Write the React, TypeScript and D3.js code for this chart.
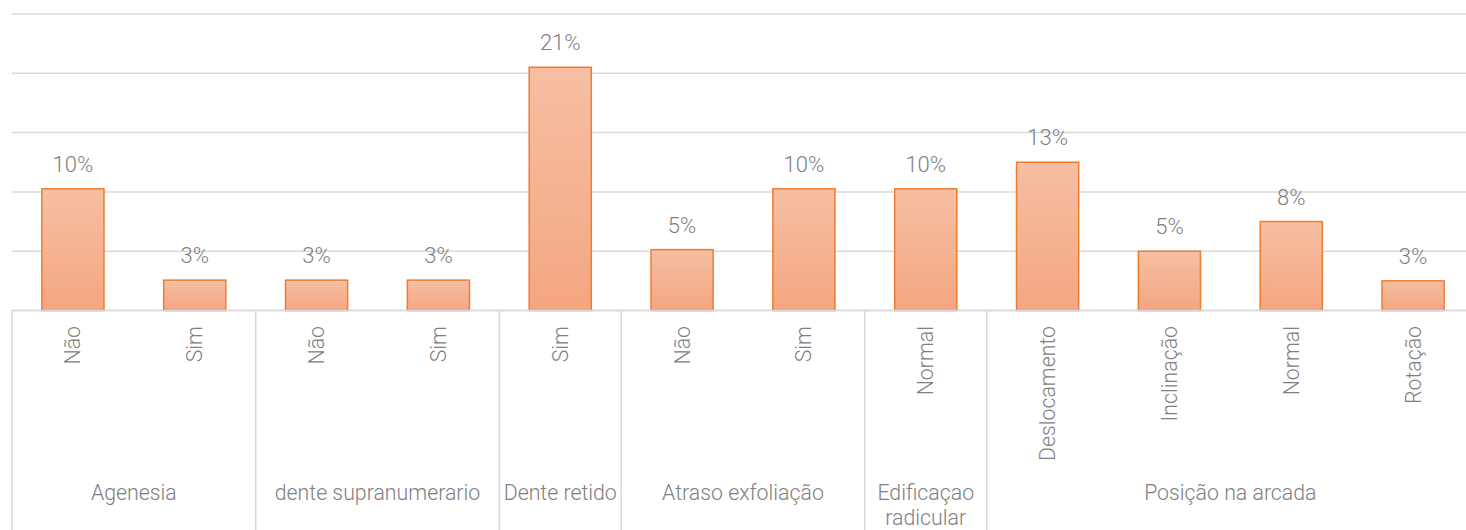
import React from "react";
import * as d3 from "d3";

const groups = ["Agenesia", "dente supranumerario", "Dente retido", "Atraso exfoliação", "Edificaçao radicular", "Posição na arcada"];
const groupOf = [0, 0, 1, 1, 2, 3, 3, 4, 5, 5, 5, 5];
const categories = ["Não", "Sim", "Não", "Sim", "Sim", "Não", "Sim", "Normal", "Deslocamento", "Inclinação", "Normal", "Rotação"];
const values = [0.1026, 0.0256, 0.0256, 0.0256, 0.2051, 0.0513, 0.1026, 0.1026, 0.125, 0.05, 0.075, 0.025];
const yTicks = [0, 0.05, 0.1, 0.15, 0.2, 0.25];
const outerLines: Record<string, string[]> = { "Edificaçao radicular": ["Edificaçao", "radicular"] };

const W = 1466, H = 530;
const left = 12, right = 1474, top = 14, base = 310.5;
const FONT = "Roboto, 'Open Sans', sans-serif";
const TXT = "#808080";

export default function App() {
  const idx = categories.map((_, i) => i);
  const x = d3.scaleBand<number>().domain(idx).range([left, right]).paddingInner(0.49).paddingOuter(0.245);
  const step = x.step();
  const y = d3.scaleLinear().domain([0, 0.25]).range([base, top]);
  const fmt = (v: number) => Math.round(v * 100 + 1e-9) + "%";

  const bounds: { g: number; start: number; end: number }[] = [];
  groupOf.forEach((g, i) => {
    const last = bounds[bounds.length - 1];
    if (last && last.g === g) last.end = i;
    else bounds.push({ g, start: i, end: i });
  });
  const bandLeft = (i: number) => left + i * step;

  return (
    <svg width={W} height={H} style={{ position: "absolute", left: 0, top: 0, background: "#fff" }} fontFamily={FONT}>
      <defs>
        <linearGradient id="barGrad" x1="0" y1="0" x2="0" y2="1">
          <stop offset="0%" stopColor="#f6bfa3" />
          <stop offset="100%" stopColor="#f4a680" />
        </linearGradient>
      </defs>
      {yTicks.map((t) => (
        <line key={t} x1={left} x2={W} y1={y(t)} y2={y(t)} stroke="#d9d9d9" strokeWidth={1.5} />
      ))}
      {values.map((v, i) => (
        <g key={i}>
          <rect
            x={x(i)!}
            y={y(v)}
            width={x.bandwidth()}
            height={base - y(v)}
            fill="url(#barGrad)"
            stroke="#ed7d31"
            strokeWidth={1.5}
          />
          <text x={x(i)! + x.bandwidth() / 2} y={y(v) - 17} textAnchor="middle" fontSize={22} fontWeight={300} fill={TXT}>
            {fmt(v)}
          </text>
        </g>
      ))}
      <line x1={left} x2={W} y1={base} y2={base} stroke="#d9d9d9" strokeWidth={1.5} />
      {bounds.map((b) => (
        <line key={"s" + b.start} x1={bandLeft(b.start)} x2={bandLeft(b.start)} y1={base} y2={H} stroke="#d9d9d9" strokeWidth={1.5} />
      ))}
      {categories.map((c, i) => {
        const cx = x(i)! + x.bandwidth() / 2;
        return (
          <text
            key={"c" + i}
            transform={`translate(${cx},${326}) rotate(-90)`}
            textAnchor="end"
            dy="0.35em"
            fontSize={21.3}
            fontWeight={300}
            fill={TXT}
          >
            {c}
          </text>
        );
      })}
      {bounds.map((b) => {
        const name = groups[b.g];
        const cx = (bandLeft(b.start) + bandLeft(b.end + 1)) / 2;
        const lines = outerLines[name] || [name];
        const y0 = 500;
        return (
          <text key={"g" + b.g} x={cx} y={y0} textAnchor="middle" fontSize={21.3} fontWeight={300} fill={TXT}>
            {lines.map((l, k) => (
              <tspan key={k} x={cx} y={y0 + k * 25}>
                {l}
              </tspan>
            ))}
          </text>
        );
      })}
    </svg>
  );
}
